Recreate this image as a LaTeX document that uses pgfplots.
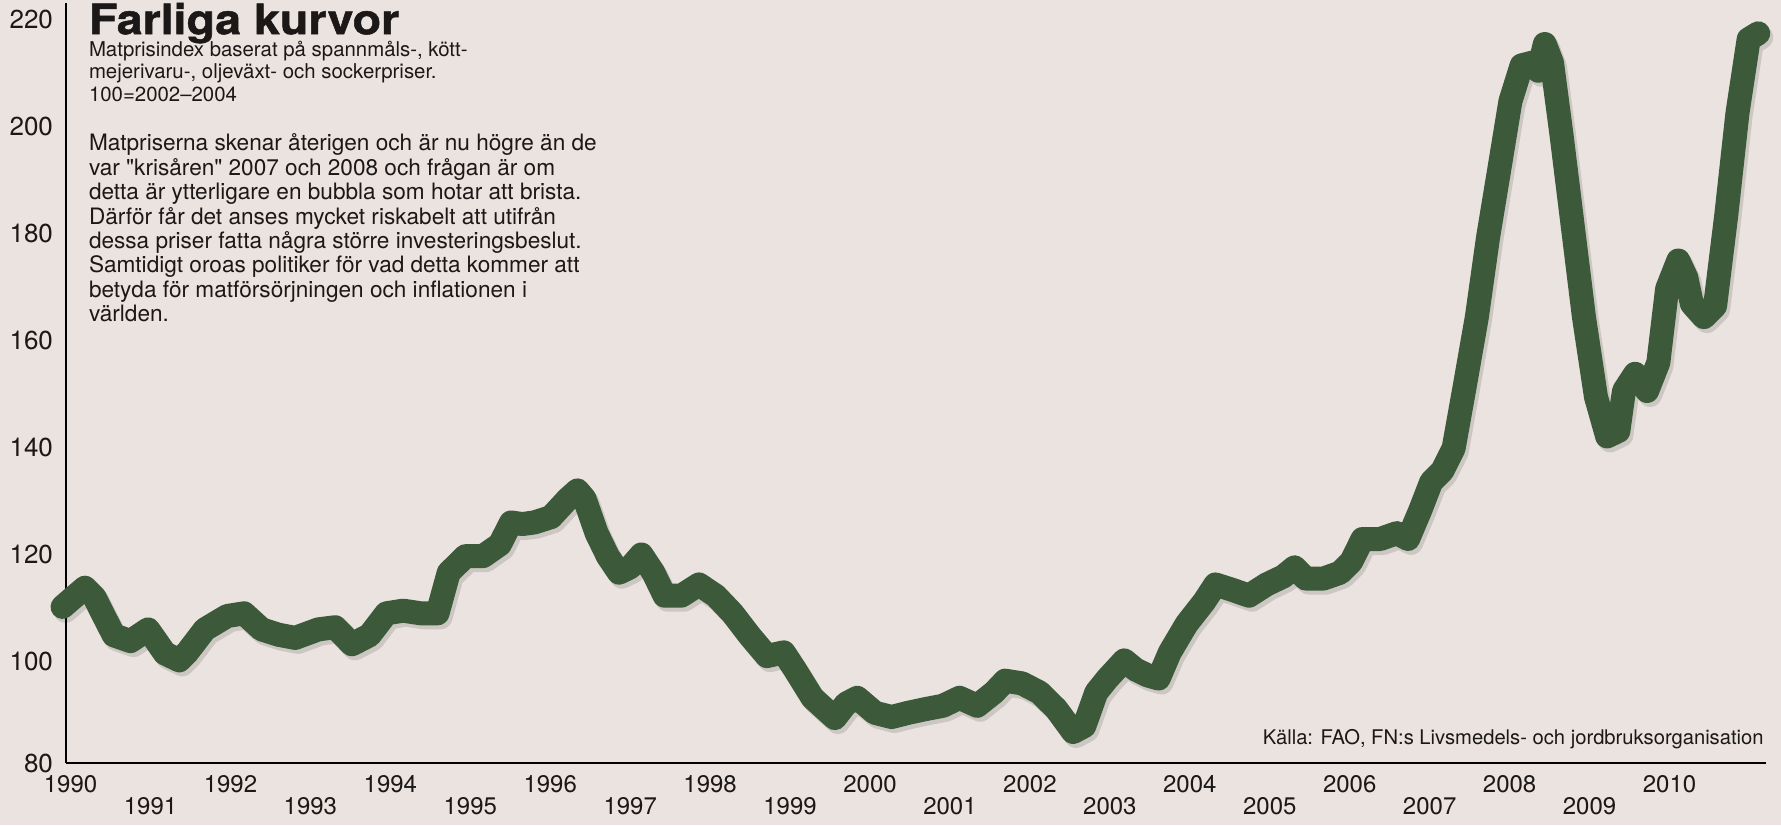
\documentclass[border=0pt]{standalone}
\usepackage{fontspec}
\setmainfont{TeX Gyre Heros}[Ligatures=TeXOff]
\usepackage{pgfplots}
\usepackage{pgfplotstable}
\pgfplotsset{compat=1.18}
\pgfkeys{/pgf/number format/1000 sep={}}
\definecolor{paper}{RGB}{234,227,223}
\definecolor{curve}{RGB}{60,90,58}
\definecolor{ink}{RGB}{28,24,24}

\pgfplotstableread{
year value
1989.90 110.2
1990.00 111.5
1990.18 113.8
1990.30 112.0
1990.40 109.0
1990.54 104.9
1990.75 103.8
1990.97 106.0
1991.18 101.5
1991.36 100.2
1991.46 101.7
1991.68 106.0
1991.96 108.5
1992.17 109.0
1992.39 106.0
1992.60 105.0
1992.81 104.4
1993.10 106.0
1993.31 106.4
1993.52 103.2
1993.74 104.9
1993.95 109.0
1994.16 109.5
1994.38 109.0
1994.59 109.0
1994.73 116.6
1994.94 119.7
1995.16 119.7
1995.37 121.9
1995.51 126.0
1995.65 125.7
1995.80 126.0
1996.01 127.0
1996.22 130.4
1996.34 132.0
1996.43 130.4
1996.58 124.0
1996.72 119.7
1996.86 116.6
1997.00 117.6
1997.14 120.0
1997.29 116.6
1997.43 112.3
1997.64 112.3
1997.86 114.4
1998.07 112.3
1998.28 109.0
1998.49 104.9
1998.71 101.0
1998.92 101.7
1999.06 98.5
1999.28 93.2
1999.56 89.4
1999.70 92.1
1999.84 93.2
2000.06 90.4
2000.27 89.6
2000.48 90.4
2000.70 91.1
2000.91 91.7
2001.12 93.2
2001.34 91.7
2001.55 94.2
2001.69 96.4
2001.90 95.9
2002.12 94.2
2002.33 91.1
2002.54 86.8
2002.68 87.9
2002.83 94.2
2002.97 96.8
2003.18 100.2
2003.32 98.5
2003.47 97.4
2003.61 96.8
2003.75 101.7
2003.96 107.0
2004.18 111.2
2004.32 114.4
2004.53 113.4
2004.74 112.3
2004.96 114.4
2005.17 115.9
2005.31 117.6
2005.45 115.5
2005.67 115.5
2005.88 116.6
2006.02 118.7
2006.16 122.9
2006.38 122.9
2006.59 124.0
2006.73 122.9
2006.88 128.2
2007.02 133.6
2007.16 135.7
2007.30 139.9
2007.44 151.6
2007.59 164.4
2007.73 179.3
2007.87 192.0
2008.01 204.8
2008.15 211.5
2008.28 212.0
2008.36 210.5
2008.44 215.5
2008.53 212.0
2008.65 198.4
2008.79 181.4
2008.93 164.4
2009.08 149.5
2009.22 142.1
2009.36 143.1
2009.43 150.6
2009.57 153.8
2009.72 150.6
2009.86 155.9
2009.97 169.7
2010.11 175.0
2010.21 171.8
2010.28 166.9
2010.43 164.4
2010.57 166.5
2010.71 183.5
2010.85 202.6
2010.99 216.4
2011.11 217.5
}\fao

\begin{document}
\begin{tikzpicture}
\path[use as bounding box, fill=paper] (-33pt,-31pt) rectangle (857.5pt,381.5pt);
\begin{axis}[
  at={(0pt,0pt)}, anchor=south west,
  scale only axis, width=850pt, height=379.8pt,
  xmin=1989.943, xmax=2011.207, ymin=81, ymax=223.1,
  axis x line*=bottom, axis y line*=left,
  axis line style={black, line width=1.2pt},
  clip=false,
  major tick length=0pt,
  xtick={1990,1992,...,2010},
  extra x ticks={1991,1993,...,2009},
  extra x tick style={major tick length=0pt, xticklabel style={yshift=-11pt}},
  xticklabel style={anchor=base, yshift=-14.5pt, font=\fontsize{12}{14}\selectfont\color{ink}},
  ytick={81,100,120,...,220},
  yticklabels={80,100,120,140,160,180,200,220},
  yticklabel style={anchor=east, xshift=-3pt, font=\fontsize{13}{15}\selectfont\color{ink}},
  /pgf/number format/assume math mode=true,
  /pgf/number format/1000 sep={},
]
\addplot[black, opacity=0.12, line width=12pt, line join=round, line cap=round, xshift=1.5pt, yshift=-2pt] table[x=year, y=value] {\fao};
\addplot[curve, line width=12pt, line join=round, line cap=round] table[x=year, y=value] {\fao};
\end{axis}
\node[anchor=base west, inner sep=0, text=ink] at (11.3pt,364.4pt) {\fontsize{21}{24}\selectfont\bfseries\addfontfeature{FakeStretch=1.11, FakeBold=1.2}Farliga kurvor};
\begin{scope}[every node/.style={anchor=base west, inner sep=0, text=ink, font=\fontsize{10.2}{12}\selectfont}]
\node at (11.3pt,353.4pt) {Matprisindex baserat på spannmåls-, kött-};
\node at (11.3pt,342.0pt) {mejerivaru-, oljeväxt- och sockerpriser.};
\node at (11.3pt,330.6pt) {100=2002–2004};
\end{scope}
\begin{scope}[every node/.style={anchor=base west, inner sep=0, text=ink, font=\fontsize{11.3}{13}\selectfont}]
\node at (11.3pt,306.0pt) {Matpriserna skenar återigen och är nu högre än de};
\node at (11.3pt,293.8pt) {var "krisåren" 2007 och 2008 och frågan är om};
\node at (11.3pt,281.6pt) {detta är ytterligare en bubbla som hotar att brista.};
\node at (11.3pt,269.4pt) {Därför får det anses mycket riskabelt att utifrån};
\node at (11.3pt,257.2pt) {dessa priser fatta några större investeringsbeslut.};
\node at (11.3pt,245.0pt) {Samtidigt oroas politiker för vad detta kommer att};
\node at (11.3pt,232.8pt) {betyda för matförsörjningen och inflationen i};
\node at (11.3pt,220.6pt) {världen.};
\end{scope}
\node[anchor=base east, inner sep=0, text=ink, font=\fontsize{10.1}{12}\selectfont] at (849pt,9.5pt) {Källa: FAO, FN:s Livsmedels- och jordbruksorganisation};
\end{tikzpicture}
\end{document}
